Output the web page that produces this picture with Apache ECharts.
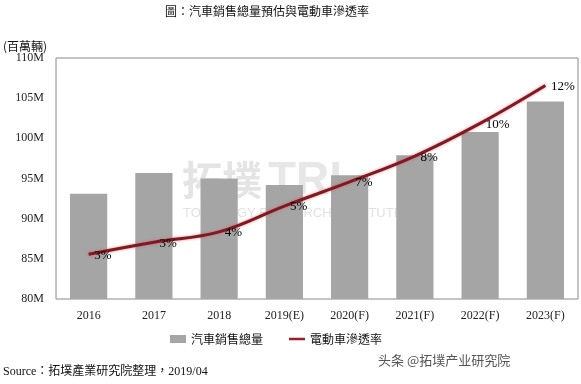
<!DOCTYPE html>
<html><head><meta charset="utf-8">
<script src="https://cdn.jsdelivr.net/npm/echarts@6/dist/echarts.min.js"></script>
<style>html,body{margin:0;padding:0;background:#fff}#c{width:581px;height:384px}</style>
</head><body><div id="c"></div>
<script>
var categories = ['2016','2017','2018','2019(E)','2020(F)','2021(F)','2022(F)','2023(F)'];
var salesM = [93.1, 95.7, 95.0, 94.2, 95.4, 97.9, 100.8, 104.6];
var evShare = [2.6, 3.3, 3.9, 5.4, 6.8, 8.3, 10.2, 12.4];
var yTicks = [80, 85, 90, 95, 100, 105, 110];

var serif = '"Liberation Serif", "DejaVu Serif", serif';
var cjk = '"Noto Sans CJK TC", "Noto Sans CJK SC", sans-serif';

var chart = echarts.init(document.getElementById('c'));
chart.setOption({
  animation: false,
  backgroundColor: '#fff',
  title: {
    text: '圖：汽車銷售總量預估與電動車滲透率',
    left: 160, top: 0,
    textStyle: {fontFamily: cjk, fontSize: 12, fontWeight: 'normal', color: '#111'}
  },
  legend: {
    bottom: 34, left: 165,
    itemGap: 26, itemWidth: 16, itemHeight: 8,
    textStyle: {fontFamily: cjk, fontSize: 12, color: '#111'},
    data: [
      {name: '汽車銷售總量', icon: 'rect'},
      {name: '電動車滲透率', icon: 'path://M0,0L16,0L16,0.01ZM0,2.8L16,2.8L16,5.2L0,5.2ZM0,8L16,8L16,7.99Z', itemStyle: {color: '#9a1e2a'}}
    ]
  },
  grid: {left: 53, right: 3, top: 58, bottom: 85, show: true, borderColor: '#8a8a8a', borderWidth: 1},
  xAxis: {
    type: 'category', data: categories,
    axisLine: {show: false}, axisTick: {show: false},
    axisLabel: {fontFamily: serif, fontSize: 12, color: '#222', margin: 11}
  },
  yAxis: [{
    type: 'value', min: yTicks[0], max: yTicks[yTicks.length - 1], interval: 5,
    name: '(百萬輛)', nameLocation: 'end', nameGap: 6,
    nameTextStyle: {fontFamily: cjk, fontSize: 12, color: '#111', align: 'left', padding: [0, 0, 0, -53]},
    splitLine: {show: false}, axisLine: {show: false}, axisTick: {show: false},
    axisLabel: {fontFamily: serif, fontSize: 12, color: '#222', margin: 12, formatter: function (v) { return v + 'M'; }}
  }, {
    type: 'value', min: 0, max: 14, show: false, splitLine: {show: false}
  }],
  series: [{
    name: '汽車銷售總量', type: 'bar', data: salesM, barWidth: '57%',
    itemStyle: {color: '#a5a5a5'}
  }, {
    name: '電動車滲透率', type: 'line', yAxisIndex: 1, data: evShare, smooth: 0.4,
    symbol: 'none', z: 5,
    lineStyle: {color: '#7e1a24', width: 3, shadowColor: 'rgba(230,80,80,0.7)', shadowBlur: 3},
    itemStyle: {color: '#7e1a24'}
  }, {
    name: 'labels', type: 'scatter', yAxisIndex: 1, data: evShare, z: 6,
    symbolSize: 1, itemStyle: {color: 'rgba(0,0,0,0)'}, silent: true,
    label: {show: true, position: 'right', distance: 5, offset: [0, 1], fontFamily: serif, fontSize: 13,
      color: '#000', opacity: 1, textBorderWidth: 0,
      formatter: function (p) { return Math.round(p.value) + '%'; }}
  }],
  graphic: [
    {type: 'text', left: 182, top: 160, z: 1, silent: true,
      style: {text: '拓墣', font: 'bold 40px ' + cjk, fill: 'rgba(120,120,120,0.2)'}},
    {type: 'text', left: 268, top: 158, z: 1, silent: true,
      style: {text: 'TRI', font: 'bold 46px "Liberation Sans", sans-serif', fill: 'rgba(120,120,120,0.18)'}},
    {type: 'text', left: 183, top: 207, z: 1, silent: true,
      style: {text: 'TOPOLOGY RESEARCH INSTITUTE', font: '13px "Liberation Sans Narrow", "Liberation Sans", sans-serif', fill: 'rgba(120,120,120,0.22)'}},
    {type: 'text', left: 3, top: 366,
      style: {text: 'Source：拓墣產業研究院整理，2019/04', font: '12px ' + serif + ', ' + cjk, fill: '#111'}},
    {type: 'text', left: 378, top: 354,
      style: {text: '头条 @拓墣产业研究院', font: '13px ' + cjk, fill: '#555'}}
  ]
});
</script></body></html>
